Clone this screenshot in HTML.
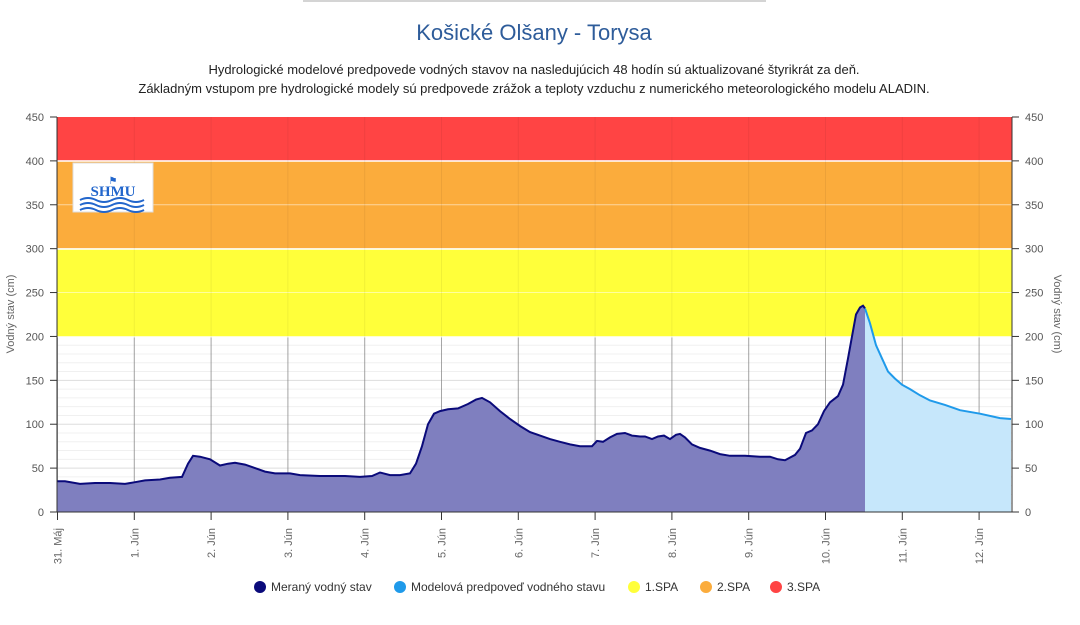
<!DOCTYPE html>
<html><head><meta charset="utf-8"><style>
body{margin:0;background:#fff;width:1080px;height:620px;overflow:hidden;font-family:"Liberation Sans",sans-serif}
</style></head><body>
<svg id="s" width="1080" height="620" xmlns="http://www.w3.org/2000/svg" font-family="Liberation Sans, sans-serif">
<line x1="303" y1="1" x2="766" y2="1" stroke="#aaa" stroke-width="1"/>
<text x="534" y="40" text-anchor="middle" font-size="22" fill="#2e5c9a">Košické Olšany - Torysa</text>
<text x="534" y="74" text-anchor="middle" font-size="13" fill="#222">Hydrologické modelové predpovede vodných stavov na nasledujúcich 48 hodín sú aktualizované štyrikrát za deň.</text>
<text x="534" y="93" text-anchor="middle" font-size="13" fill="#222">Základným vstupom pre hydrologické modely sú predpovede zrážok a teploty vzduchu z numerického meteorologického modelu ALADIN.</text>
<g id="grid"></g>
<rect x="57" y="117" width="955" height="44" fill="#ff4444"/>
<rect x="57" y="161" width="955" height="88" fill="#fbac3c"/>
<rect x="57" y="249" width="955" height="88" fill="#ffff3a"/>
<g id="grid2"></g>
<path id="ma" fill="#7f7fbf"/>
<path id="fa" fill="#c6e7fb"/>
<path id="ml" fill="none" stroke="#0a0a7a" stroke-width="2"/>
<path id="fl" fill="none" stroke="#1f9aea" stroke-width="2"/>
<g id="ax"></g>
<rect x="73" y="163" width="80" height="49" fill="#fff" stroke="#ddd"/>
<text x="113" y="196" text-anchor="middle" font-size="15" font-weight="bold" fill="#2266cc" font-family="Liberation Serif,serif">SHMU</text>
<text x="113" y="184" text-anchor="middle" font-size="10" fill="#2266cc">⚑</text>
<path d="M80 200 q8 -4 16 0 t16 0 t16 0 t16 0 M80 205 q8 -4 16 0 t16 0 t16 0 t16 0 M80 210 q8 -4 16 0 t16 0 t16 0 t16 0" stroke="#2266cc" stroke-width="2" fill="none"/>
<text transform="translate(14,314) rotate(-90)" text-anchor="middle" font-size="11" fill="#666">Vodný stav (cm)</text>
<text transform="translate(1054,314) rotate(90)" text-anchor="middle" font-size="11" fill="#666">Vodný stav (cm)</text>
<g font-size="12" fill="#333">
<circle cx="260" cy="587" r="6" fill="#0a0a7a"/><text x="271" y="591">Meraný vodný stav</text>
<circle cx="400" cy="587" r="6" fill="#1f9aea"/><text x="411" y="591">Modelová predpoveď vodného stavu</text>
<circle cx="634" cy="587" r="6" fill="#ffff3a"/><text x="645" y="591">1.SPA</text>
<circle cx="706" cy="587" r="6" fill="#fbac3c"/><text x="717" y="591">2.SPA</text>
<circle cx="776" cy="587" r="6" fill="#ff4444"/><text x="787" y="591">3.SPA</text>
</g>
</svg>
<script>
const Y=v=>512-v*0.8778;
const m=[[57,35],[65,35],[80,32],[95,33],[110,33],[125,32],[135,34],[145,36],[160,37],[170,39],[182,40],[188,55],[193,64],[200,63],[210,60],[220,53],[228,55],[235,56],[245,54],[255,50],[265,46],[275,44],[290,44],[300,42],[320,41],[345,41],[360,40],[372,41],[380,45],[390,42],[400,42],[410,44],[416,55],[422,75],[428,100],[434,112],[440,115],[448,117],[458,118],[468,123],[476,128],[482,130],[490,125],[500,115],[510,106],[520,98],[530,91],[540,87],[550,83],[560,80],[570,77],[580,75],[592,75],[597,81],[603,80],[610,85],[617,89],[625,90],[632,87],[640,86],[645,86],[652,83],[658,86],[664,87],[670,83],[676,88],[680,89],[685,85],[692,77],[700,73],[710,70],[720,66],[730,64],[745,64],[760,63],[770,63],[778,60],[785,59],[795,65],[800,72],[806,90],[812,93],[818,100],[824,115],[830,125],[838,132],[843,145],[848,175],[852,200],[856,225],[860,233],[863,235],[865,232]];
const f=[[865,232],[870,215],[876,190],[882,175],[888,160],[895,152],[902,145],[910,140],[920,133],[930,127],[945,122],[960,116],[980,112],[1000,107],[1011,106]];
const P=a=>a.map((p,i)=>(i?'L':'M')+p[0]+' '+Y(p[1]).toFixed(1)).join(' ');
const A=a=>P(a)+` L${a[a.length-1][0]} 512 L${a[0][0]} 512 Z`;
document.getElementById('ma').setAttribute('d',A(m));
document.getElementById('fa').setAttribute('d',A(f));
document.getElementById('ml').setAttribute('d',P(m));
document.getElementById('fl').setAttribute('d',P(f));
let g='',g2='';
for(let v=10;v<200;v+=10){const y=Y(v);g+=`<line x1="57" x2="1012" y1="${y}" y2="${y}" stroke="${v%50?'#f0f0f0':'#ddd'}" stroke-width="1"/>`;}
for(let v=250;v<450;v+=50){const y=Y(v);g2+=`<line x1="57" x2="1012" y1="${y}" y2="${y}" stroke="#fff" stroke-opacity=".5" stroke-width="1"/>`;}
[161,249,337].forEach(y=>g2+=`<line x1="57" x2="1012" y1="${y}" y2="${y}" stroke="#fff" stroke-width="1.5"/>`);
const days=['31. Máj','1. Jún','2. Jún','3. Jún','4. Jún','5. Jún','6. Jún','7. Jún','8. Jún','9. Jún','10. Jún','11. Jún','12. Jún'];
let ax='';
days.forEach((d,i)=>{const x=57.5+i*76.8;g+=`<line x1="${x}" x2="${x}" y1="337" y2="512" stroke="#999" stroke-opacity=".6"/>`;
g2+=`<line x1="${x}" x2="${x}" y1="117" y2="337" stroke="#000" stroke-opacity=".06"/><line x1="${x}" x2="${x}" y1="337" y2="512" stroke="#555" stroke-opacity=".25"/>`;
ax+=`<line x1="${x}" x2="${x}" y1="512" y2="520" stroke="#333"/><text transform="translate(${x+4},528) rotate(-90)" text-anchor="end" font-size="11" fill="#666">${d}</text>`;});
for(let v=0;v<=450;v+=50){const y=Y(v);ax+=`<line x1="50" x2="57" y1="${y}" y2="${y}" stroke="#333"/><line x1="1012" x2="1019" y1="${y}" y2="${y}" stroke="#333"/><text x="44" y="${y+4}" text-anchor="end" font-size="11" fill="#555">${v}</text><text x="1025" y="${y+4}" font-size="11" fill="#555">${v}</text>`;}
ax+=`<line x1="57" x2="57" y1="117" y2="512" stroke="#333"/><line x1="1012" x2="1012" y1="117" y2="512" stroke="#333"/><line x1="50" x2="1019" y1="512" y2="512" stroke="#333"/>`;
document.getElementById('grid').innerHTML=g;
document.getElementById('grid2').innerHTML=g2;
document.getElementById('ax').innerHTML=ax;
</script>
</body></html>
